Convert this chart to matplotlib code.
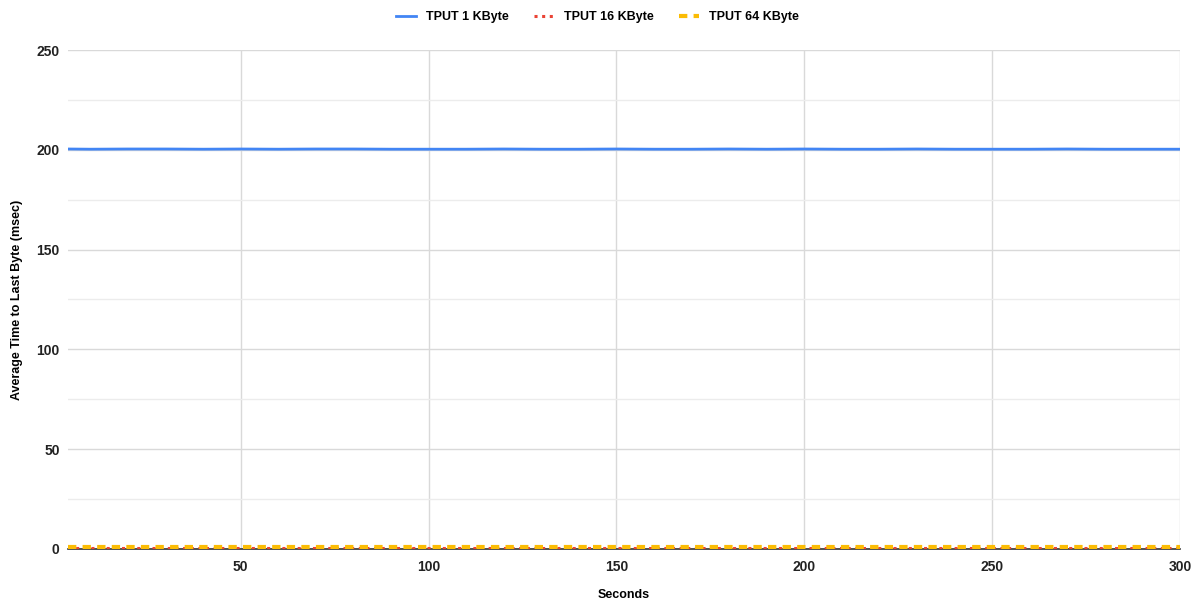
import numpy as np
import matplotlib.pyplot as plt
from matplotlib.ticker import MultipleLocator

# sampled readings (seconds, msec)
seconds = [4, 10, 20, 30, 40, 50, 60, 70, 80, 90, 100, 110, 120, 130, 140, 150,
           160, 170, 180, 190, 200, 210, 220, 230, 240, 250, 260, 270, 280, 290, 300]
tput_1k = [200.4, 200.3, 200.4, 200.4, 200.3, 200.4, 200.3, 200.4, 200.4, 200.3, 200.3,
           200.3, 200.4, 200.3, 200.3, 200.4, 200.3, 200.3, 200.4, 200.3, 200.4, 200.3,
           200.3, 200.4, 200.3, 200.3, 200.3, 200.4, 200.3, 200.3, 200.3]
tput_16k = [0.6] * len(seconds)
tput_64k = [1.1] * len(seconds)

plt.rcParams['font.family'] = ['Liberation Sans', 'DejaVu Sans']

fig = plt.figure(figsize=(11.95, 6.04), dpi=100)
ax = fig.add_axes([0.0569, 0.0911, 0.9305, 0.8261])

ax.plot(seconds, tput_1k, color='#4285F4', linewidth=2, label='TPUT 1 KByte', zorder=3)
ax.plot(seconds, tput_16k, color='#EA4335', linewidth=2.2, linestyle=(0, (1, 1.5)),
        label='TPUT 16 KByte', zorder=3)
ax.plot(seconds, tput_64k, color='#FBBC04', linewidth=3, linestyle=(0, (2, 1.5)),
        label='TPUT 64 KByte', zorder=4)

ax.set_xlim(4, 300)
ax.set_ylim(0, 250)
ax.xaxis.set_major_locator(MultipleLocator(50))
ax.yaxis.set_major_locator(MultipleLocator(50))
ax.yaxis.set_minor_locator(MultipleLocator(25))
ax.grid(True, which='major', color='#d9d9d9', linewidth=1)
ax.grid(True, which='minor', axis='y', color='#ececec', linewidth=1)
ax.set_axisbelow(True)

for s in ['top', 'right', 'left']:
    ax.spines[s].set_visible(False)
ax.spines['bottom'].set_color('#333333')
ax.spines['bottom'].set_linewidth(1.2)
ax.tick_params(which='both', length=0, labelsize=10, pad=8)
ax.tick_params(axis='y', pad=6)
for lbl in ax.get_xticklabels() + ax.get_yticklabels():
    lbl.set_fontweight('bold')
    lbl.set_color('#222222')

ax.set_xlabel('Seconds', fontsize=9, fontweight='bold', labelpad=11)
ax.set_ylabel('Average Time to Last Byte (msec)', fontsize=9, fontweight='bold', labelpad=10)

leg = fig.legend(loc='upper center', bbox_to_anchor=(0.5, 1.0), ncol=3, frameon=False,
                 handlelength=1.6, columnspacing=2.0, prop={'weight': 'bold', 'size': 9})

fig.savefig('out.png', dpi=100)
